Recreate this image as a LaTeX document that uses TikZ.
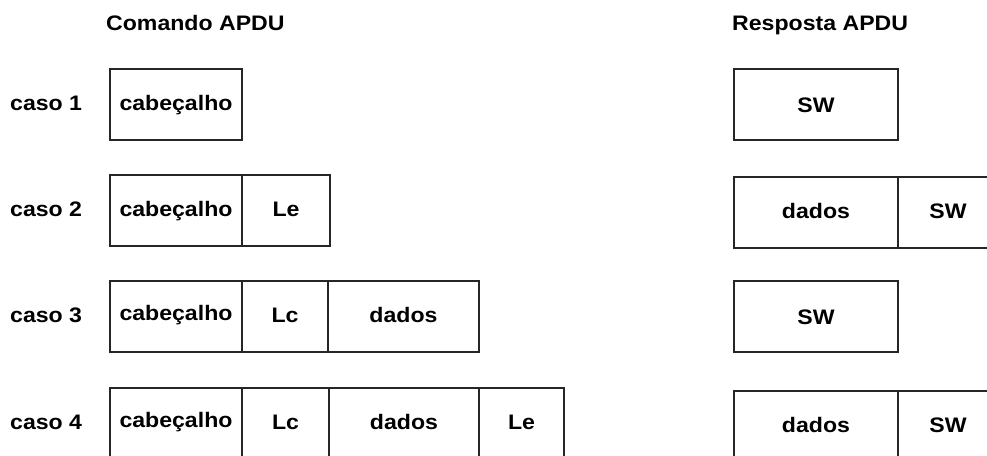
\documentclass[tikz,border=0pt]{standalone}
\usepackage{fontspec}
\setmainfont{Liberation Sans}[FakeStretch=1.1]
\begin{document}
\begin{tikzpicture}[x=1pt,y=-1pt,
  txt/.style={font=\fontsize{21}{24}\selectfont\bfseries},
  cell/.style={txt, draw=black!85, line width=1.3pt, inner sep=0pt, outer sep=0pt,
    minimum height=71pt, anchor=north west, text height=12pt, text depth=0pt},
  lbl/.style={txt, anchor=base west, inner sep=0pt}]
\useasboundingbox (0,0) rectangle (987,455);
\clip (0,0) rectangle (987,455);
% titles
\node[lbl] (tcmd) at (106,30) {Comando APDU};
\node[lbl] (tresp) at (732,30) {Resposta APDU};
% case labels
\node[lbl] (l1) at (10,110.5) {caso 1};
\node[lbl] (l2) at (10,216.5) {caso 2};
\node[lbl] (l3) at (10,322.5) {caso 3};
\node[lbl] (l4) at (10,429.5) {caso 4};
% command row 1
\node[cell, minimum width=132pt] (c1h) at (110,69) {cabeçalho};
% command row 2
\node[cell, minimum width=132pt] (c2h) at (110,175) {cabeçalho};
\node[cell, minimum width=88pt] (c2e) at (c2h.north east) {Le};
% command row 3
\node[cell, minimum width=132pt, text height=8pt] (c3h) at (110,281) {cabeçalho};
\node[cell, minimum width=86pt] (c3c) at (c3h.north east) {Lc};
\node[cell, minimum width=151pt] (c3d) at (c3c.north east) {dados};
% command row 4
\node[cell, minimum width=132pt, text height=8pt] (c4h) at (110,388) {cabeçalho};
\node[cell, minimum width=87pt] (c4c) at (c4h.north east) {Lc};
\node[cell, minimum width=150pt] (c4d) at (c4c.north east) {dados};
\node[cell, minimum width=85pt] (c4e) at (c4d.north east) {Le};
% response rows
\node[cell, minimum width=164pt, text height=15pt] (r1s) at (734,69) {SW};
\node[cell, minimum width=164pt] (r2d) at (734,177) {dados};
\node[cell, minimum width=100pt] (r2s) at (r2d.north east) {SW};
\node[cell, minimum width=164pt, text height=15pt] (r3s) at (734,281) {SW};
\node[cell, minimum width=164pt] (r4d) at (734,391) {dados};
\node[cell, minimum width=100pt] (r4s) at (r4d.north east) {SW};
\end{tikzpicture}
\end{document}
